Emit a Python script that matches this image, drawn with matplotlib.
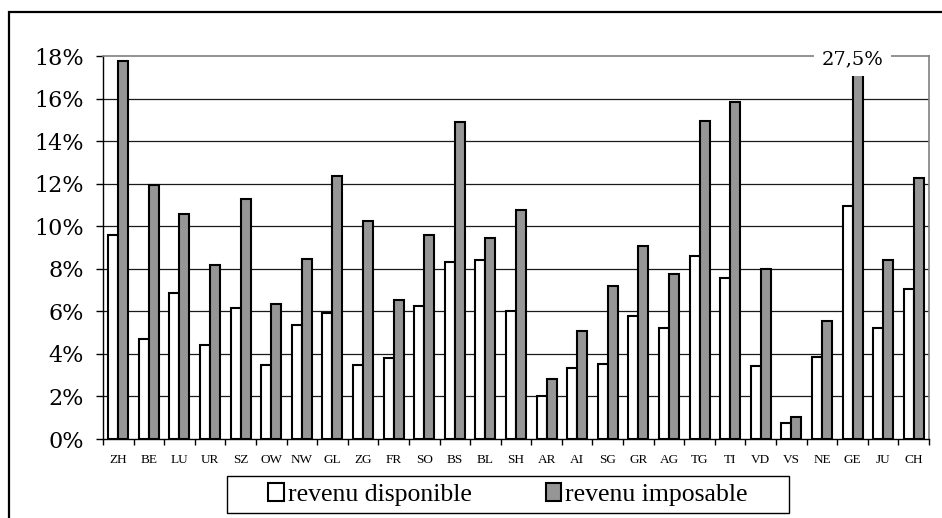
import numpy as np
import matplotlib
matplotlib.use("Agg")
import matplotlib.pyplot as plt
from matplotlib.patches import Rectangle

cantons = ["ZH", "BE", "LU", "UR", "SZ", "OW", "NW", "GL", "ZG", "FR", "SO", "BS",
           "BL", "SH", "AR", "AI", "SG", "GR", "AG", "TG", "TI", "VD", "VS", "NE",
           "GE", "JU", "CH"]
revenu_disponible = [9.57, 4.70, 6.87, 4.42, 6.14, 3.46, 5.36, 5.90, 3.46, 3.82, 6.25, 8.33,
                     8.41, 6.00, 2.03, 3.32, 3.52, 5.78, 5.23, 8.61, 7.58, 3.43, 0.77, 3.87,
                     10.95, 5.20, 7.06]
revenu_imposable = [17.76, 11.94, 10.56, 8.19, 11.28, 6.34, 8.47, 12.36, 10.23, 6.53, 9.57, 14.91,
                    9.43, 10.76, 2.83, 5.09, 7.19, 9.08, 7.74, 14.96, 15.82, 7.97, 1.05, 5.56,
                    27.5, 8.41, 12.27]
legend_labels = ["revenu disponible", "revenu imposable"]
y_ticks = [0, 2, 4, 6, 8, 10, 12, 14, 16, 18]

W, H = 942, 518
fig = plt.figure(figsize=(W / 100, H / 100), dpi=100)
ax = fig.add_axes([103 / W, 1 - 439 / H, (929 - 103) / W, (439 - 56) / H])

x = np.arange(len(cantons))
bw = 0.327
b1 = ax.bar(x - bw / 2, revenu_disponible, bw, color="white", edgecolor="black",
            linewidth=1.5, zorder=3, label=legend_labels[0])
b2 = ax.bar(x + bw / 2, revenu_imposable, bw, color="#969696", edgecolor="black",
            linewidth=1.5, zorder=3, label=legend_labels[1])

ax.set_xlim(-0.5, len(cantons) - 0.5)
ax.set_ylim(0, 18)

# horizontal gridlines
for v in y_ticks[1:-1]:
    ax.axhline(v, color="#1a1a1a", linewidth=0.9, zorder=1)

ax.set_yticks(y_ticks)
ax.set_yticklabels([f"{v}%" for v in y_ticks], fontfamily="DejaVu Serif", fontsize=16)
ax.tick_params(axis="y", direction="out", length=5, width=1, pad=9)

ax.set_xticks(np.arange(len(cantons) + 1) - 0.5)
ax.set_xticklabels([])
ax.tick_params(axis="x", which="major", direction="out", length=4, width=1)
ax.set_xticks(x, minor=True)
ax.set_xticklabels(cantons, minor=True, fontfamily="Liberation Serif", fontsize=9.5)
ax.tick_params(axis="x", which="minor", length=0, pad=11)

for s in ["left", "bottom"]:
    ax.spines[s].set_color("black")
    ax.spines[s].set_linewidth(1.0)
for s in ["top", "right"]:
    ax.spines[s].set_color("#808080")
    ax.spines[s].set_linewidth(1.2)

# value label for the bar exceeding the axis range
ge = cantons.index("GE")
ax.text(ge, 17.86, "27,5%", ha="center", va="center",
        fontfamily="DejaVu Serif", fontsize=14, zorder=5, clip_on=False,
        bbox=dict(boxstyle="square,pad=0.4", facecolor="white", edgecolor="none"))

# legend
fig.legend(handles=[b1, b2], labels=legend_labels, loc="center",
           bbox_to_anchor=(508 / W, 1 - 494.5 / H), ncol=2, frameon=False,
           prop={"family": "Liberation Serif", "size": 18.5},
           handlelength=0.6, handleheight=0.7, handletextpad=0.15,
           columnspacing=2.9)
fig.patches.append(Rectangle((227 / W, 1 - 513 / H), (789 - 227) / W, 37 / H,
                             transform=fig.transFigure, fill=False,
                             edgecolor="black", linewidth=1.0))

# outer frame of the chart area
fig.patches.append(Rectangle((9 / W, -0.02), 1.05, 1 - 12 / H + 0.02,
                             transform=fig.transFigure, fill=False,
                             edgecolor="black", linewidth=1.6))

fig.savefig("out.png", dpi=100)
